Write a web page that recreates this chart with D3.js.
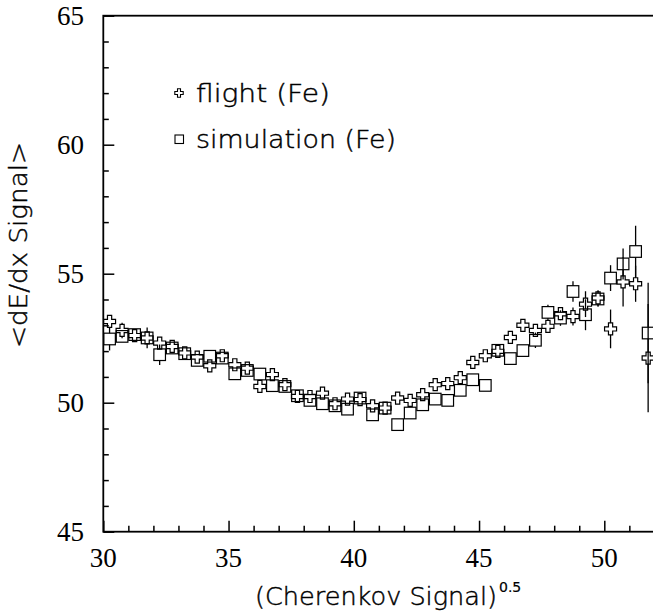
<!DOCTYPE html>
<html>
<head>
<meta charset="utf-8">
<script src="https://cdn.jsdelivr.net/npm/d3@7"></script>
<style>
html,body{margin:0;padding:0;background:#fff;}
svg{display:block;}
</style>
</head>
<body>
<svg id="chart" width="653" height="616"></svg>
<script>
// ---- data ----
const xValues = [30.25,30.75,31.25,31.75,32.25,32.75,33.25,33.75,34.25,34.75,35.25,35.75,36.25,36.75,37.25,37.75,38.25,38.75,39.25,39.75,40.25,40.75,41.25,41.75,42.25,42.75,43.25,43.75,44.25,44.75,45.25,45.75,46.25,46.75,47.25,47.75,48.25,48.75,49.25,49.75,50.25,50.75,51.25,51.75];
const flightValues = [53.15,52.80,52.60,52.51,52.31,52.18,51.93,51.77,51.43,51.82,51.47,51.34,50.63,51.09,50.70,50.24,50.24,50.37,49.96,50.14,50.12,49.88,49.79,50.18,50.09,50.31,50.70,50.74,50.97,51.56,51.82,51.99,52.53,53.00,52.80,52.96,53.45,53.34,53.82,54.06,52.86,54.68,54.61,51.73];
const flightErrors = [0.25,0.3,0.15,0.4,0.15,0.15,0.15,0.15,0.15,0.15,0.15,0.15,0.15,0.15,0.15,0.15,0.15,0.15,0.15,0.15,0.15,0.15,0.15,0.15,0.15,0.15,0.15,0.15,0.15,0.15,0.15,0.15,0.2,0.2,0.2,0.25,0.25,0.35,0.5,0.3,0.75,0.95,0.7,2.1];
const simValues = [52.47,52.57,52.64,52.51,51.86,52.12,51.90,51.64,51.80,51.73,51.12,51.25,51.11,50.66,50.63,50.27,50.09,49.96,49.88,49.75,50.18,49.53,49.79,49.15,49.60,49.92,50.14,50.09,50.48,50.89,50.67,52.03,51.71,52.02,52.42,53.50,53.28,54.31,53.41,54.02,54.83,55.38,55.86,52.70];
const simErrors = [0.45,0.2,0.15,0.2,0.4,0.15,0.15,0.15,0.15,0.15,0.15,0.15,0.15,0.15,0.15,0.15,0.15,0.15,0.15,0.15,0.15,0.15,0.15,0.15,0.15,0.15,0.15,0.15,0.15,0.15,0.2,0.2,0.2,0.2,0.3,0.3,0.3,0.4,0.6,0.3,0.5,0.6,1.0,1.95];
const xTicks = [30,35,40,45,50];
const yTicks = [45,50,55,60,65];
const legendLabels = ["flight (Fe)","simulation (Fe)"];
const xTitle = "(Cherenkov Signal)";
const xTitleSup = "0.5";
const yTitle = "<dE/dx Signal>";

// ---- layout ----
const svg = d3.select("#chart");
const pLeft = 103.3, pRight = 654.4, pTop = 15.7, pBottom = 531.7;
const x = d3.scaleLinear().domain([30,52]).range([pLeft,pRight]);
const y = d3.scaleLinear().domain([45,65]).range([pBottom,pTop]);
const sansFont = "'DejaVu Sans', sans-serif";
const serifFont = "'Liberation Serif', 'Times New Roman', serif";
const titleWeight = 200;

// frame
svg.append("rect").attr("x",pLeft).attr("y",pTop).attr("width",pRight-pLeft).attr("height",pBottom-pTop)
  .attr("fill","none").attr("stroke","#000").attr("stroke-width",1.8);

// x axis ticks (inward)
const xAxis = d3.axisTop(x).tickValues(d3.range(30,53,1)).tickSize(0).tickFormat("");
const gx = svg.append("g").attr("transform",`translate(0,${pBottom})`).call(xAxis);
gx.select(".domain").remove();
gx.selectAll(".tick").append("line").attr("y1",0)
  .attr("y2",d=> xTicks.includes(d) ? -11 : -6).attr("stroke","#000").attr("stroke-width",1.5);
svg.append("g").selectAll("text").data(xTicks).join("text")
  .attr("x",d=>x(d)).attr("y",566.5).attr("text-anchor","middle")
  .attr("font-family",serifFont).attr("font-size",27).text(d=>d);

// y axis ticks (inward)
const yAxis = d3.axisRight(y).tickValues(d3.range(45,66,1)).tickSize(0).tickFormat("");
const gy = svg.append("g").attr("transform",`translate(${pLeft},0)`).call(yAxis);
gy.select(".domain").remove();
gy.selectAll(".tick").append("line").attr("x1",0)
  .attr("x2",d=> yTicks.includes(d) ? 11 : 5.5).attr("stroke","#000").attr("stroke-width",1.5);
svg.append("g").selectAll("text").data(yTicks).join("text")
  .attr("x",84).attr("y",d=>y(d)+9).attr("text-anchor","end")
  .attr("font-family",serifFont).attr("font-size",27).text(d=>d);

// titles
const xt = svg.append("text").attr("x",255).attr("y",605).attr("font-family",sansFont)
  .attr("font-size",25).attr("font-weight",titleWeight)
  .attr("stroke","#000").attr("stroke-width",0.45);
xt.append("tspan").attr("textLength",242).attr("lengthAdjust","spacingAndGlyphs").text(xTitle);
xt.append("tspan").attr("font-size",14).attr("font-weight",400).attr("stroke-width",0.2)
  .attr("dy",-13).attr("dx",2).text(xTitleSup);
svg.append("text").attr("transform","translate(27,245) rotate(-90)").attr("text-anchor","middle")
  .attr("font-family",sansFont).attr("font-size",25).attr("font-weight",titleWeight)
  .attr("stroke","#000").attr("stroke-width",0.45)
  .attr("textLength",206).attr("lengthAdjust","spacingAndGlyphs").text(yTitle);

// marker shapes
function crossPath(L,a){
  return `M${-a},${-L}H${a}V${-a}H${L}V${a}H${a}V${L}H${-a}V${a}H${-L}V${-a}H${-a}Z`;
}
svg.append("clipPath").attr("id","clip").append("rect")
  .attr("x",pLeft).attr("y",pTop).attr("width",pRight-pLeft+10).attr("height",pBottom-pTop);
const plot = svg.append("g").attr("clip-path","url(#clip)");

function drawSeries(vals, errs, half, shape){
  const g = plot.append("g");
  const pts = xValues.map((xv,i)=>({x:xv,y:vals[i],e:errs[i]}));
  g.selectAll("line.up").data(pts).join("line").attr("class","up")
    .attr("x1",d=>x(d.x)).attr("x2",d=>x(d.x))
    .attr("y1",d=>y(d.y)-half).attr("y2",d=>Math.min(y(d.y)-half, y(d.y+d.e)))
    .attr("stroke","#000").attr("stroke-width",1.3);
  g.selectAll("line.dn").data(pts).join("line").attr("class","dn")
    .attr("x1",d=>x(d.x)).attr("x2",d=>x(d.x))
    .attr("y1",d=>y(d.y)+half).attr("y2",d=>Math.max(y(d.y)+half, y(d.y-d.e)))
    .attr("stroke","#000").attr("stroke-width",1.3);
  if(shape==="cross"){
    g.selectAll("path.m").data(pts).join("path").attr("class","m")
      .attr("d",crossPath(half,2.1)).attr("transform",d=>`translate(${x(d.x)},${y(d.y)})`)
      .attr("fill","none").attr("stroke","#000").attr("stroke-width",1.2);
  } else {
    g.selectAll("rect.m").data(pts).join("rect").attr("class","m")
      .attr("x",d=>x(d.x)-half).attr("y",d=>y(d.y)-half).attr("width",2*half).attr("height",2*half)
      .attr("fill","none").attr("stroke","#000").attr("stroke-width",1.2);
  }
}
drawSeries(simValues, simErrors, 5.8, "square");
drawSeries(flightValues, flightErrors, 6, "cross");

// legend
const lg = svg.append("g");
lg.append("path").attr("d",crossPath(4.2,1.5)).attr("transform","translate(179,93)")
  .attr("fill","none").attr("stroke","#000").attr("stroke-width",1.1);
lg.append("rect").attr("x",175).attr("y",135).attr("width",8.5).attr("height",8.5)
  .attr("fill","none").attr("stroke","#000").attr("stroke-width",1.1);
const legendWidths = [134,200];
lg.selectAll("text").data(legendLabels).join("text")
  .attr("x",196).attr("y",(d,i)=> i===0 ? 101.5 : 148)
  .attr("font-family",sansFont).attr("font-size",25).attr("font-weight",titleWeight)
  .attr("stroke","#000").attr("stroke-width",0.45)
  .attr("textLength",(d,i)=>legendWidths[i]).attr("lengthAdjust","spacingAndGlyphs").text(d=>d);
</script>
</body>
</html>
